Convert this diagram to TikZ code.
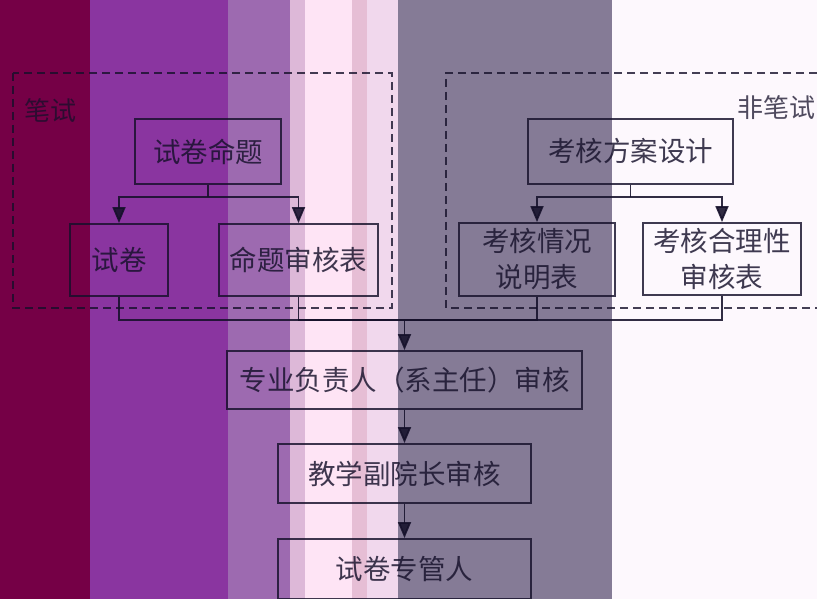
\documentclass[tikz,border=0pt]{standalone}
\usepackage{fontspec}
\newfontfamily\cjk{Noto Sans CJK SC}
\usetikzlibrary{arrows.meta}
\definecolor{bandA}{HTML}{750046}
\definecolor{bandB}{HTML}{8A35A0}
\definecolor{bandC}{HTML}{9D6AB0}
\definecolor{bandD}{HTML}{DDB8D8}
\definecolor{bandE}{HTML}{FEE4F5}
\definecolor{bandF}{HTML}{E6BED5}
\definecolor{bandG}{HTML}{F1D8ED}
\definecolor{bandH}{HTML}{857B96}
\definecolor{bandI}{HTML}{FDF8FD}
\definecolor{ink}{HTML}{15102A}
\tikzset{
  x=1pt, y=-1pt,
  boxnode/.style={draw=ink, text=ink, line width=1.8pt, inner sep=0pt, align=center,
    font=\cjk\fontsize{27.5}{36}\selectfont, opacity=0.82},
  grouplabel/.style={text=ink, inner sep=0pt, font=\cjk\fontsize{26}{30}\selectfont, opacity=0.75},
  groupframe/.style={draw=ink, line width=1.5pt, dash pattern=on 8pt off 5pt, opacity=0.8},
  wire/.style={draw=ink, line width=1.8pt, opacity=0.88},
  arrowwire/.style={wire, -{Triangle[length=16pt,width=13pt]}}
}
\begin{document}
\begin{tikzpicture}
% background bands
\useasboundingbox (0,0) rectangle (817,599);
\fill[bandA] (0,0) rectangle (90,599);
\fill[bandB] (90,0) rectangle (228,599);
\fill[bandC] (228,0) rectangle (290,599);
\fill[bandD] (290,0) rectangle (305,599);
\fill[bandE] (305,0) rectangle (352,599);
\fill[bandF] (352,0) rectangle (367,599);
\fill[bandG] (367,0) rectangle (398,599);
\fill[bandH] (398,0) rectangle (612,599);
\fill[bandI] (612,0) rectangle (817,599);

% group frames
\draw[groupframe] (13,73) rectangle (392,308);
\draw[groupframe] (830,73) -- (446,73) -- (446,308) -- (830,308);
\node[grouplabel] (lbl1) at (50,111) {笔试};
\node[grouplabel] (lbl2) at (776,108) {非笔试};

% written exam group
\node[boxnode, minimum width=146pt, minimum height=65pt] (A) at (208,151.5) {试卷命题};
\node[boxnode, minimum width=98pt, minimum height=72pt] (B) at (119,260) {试卷};
\node[boxnode, minimum width=159pt, minimum height=72pt] (C) at (298.5,260) {命题审核表};

% non-written group
\node[boxnode, minimum width=205pt, minimum height=65pt] (D) at (630.5,151.5) {考核方案设计};
\node[boxnode, minimum width=156pt, minimum height=73pt] (E) at (537,259.5) {考核情况\\说明表};
\node[boxnode, minimum width=158pt, minimum height=72pt] (F) at (722,259) {考核合理性\\审核表};

% approval chain
\node[boxnode, minimum width=355pt, minimum height=58pt] (G) at (404.5,380) {专业负责人（系主任）审核};
\node[boxnode, minimum width=253pt, minimum height=59pt] (H) at (404.5,473.5) {教学副院长审核};
\node[boxnode, minimum width=253pt, minimum height=60pt] (I) at (404.5,569) {试卷专管人};

% split connectors
\coordinate (sA) at (208,197);
\draw[wire] (A.south) -- (sA);
\draw[arrowwire] (sA) -| (B.north);
\draw[arrowwire] (sA) -| (C.north);
\coordinate (sD) at (630.5,197);
\draw[wire] (D.south) -- (sD);
\draw[arrowwire] (sD) -| (E.north);
\draw[arrowwire] (sD) -| (F.north);

% merge connectors
\coordinate (m) at (404.5,320);
\draw[wire] (B.south) |- (m);
\draw[wire] (C.south) |- (m);
\draw[wire] (E.south) |- (m);
\draw[wire] (F.south) |- (m);
\draw[arrowwire] (m) -- (G.north);
\draw[arrowwire] (G.south) -- (H.north);
\draw[arrowwire] (H.south) -- (I.north);
\end{tikzpicture}
\end{document}
